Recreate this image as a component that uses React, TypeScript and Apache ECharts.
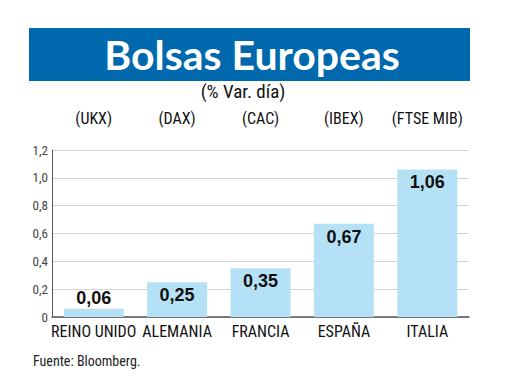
import React, { useEffect, useRef } from "react";
import * as echarts from "echarts";

const categories = ["REINO UNIDO", "ALEMANIA", "FRANCIA", "ESPAÑA", "ITALIA"];
const indexLabels = ["(UKX)", "(DAX)", "(CAC)", "(IBEX)", "(FTSE MIB)"];
const values = [0.06, 0.25, 0.35, 0.67, 1.06];
const titleText = "Bolsas Europeas";
const subtitleText = "(% Var. día)";
const sourceText = "Fuente: Bloomberg.";

const COND = "'Liberation Sans Narrow', 'Roboto Condensed', 'DejaVu Sans Condensed', Roboto, sans-serif";

export default function App() {
  const ref = useRef<HTMLDivElement>(null);
  useEffect(() => {
    document.body.style.margin = "0";
    const chart = echarts.init(ref.current!, null, { renderer: "svg" });
    const fmt = (v: number) => v.toFixed(2).replace(".", ",");
    chart.setOption({
      animation: false,
      backgroundColor: "#ffffff",
      grid: { left: 52, right: 51, top: 150, bottom: 73 },
      xAxis: [
        {
          type: "category",
          data: categories,
          position: "bottom",
          axisLine: { show: true, lineStyle: { color: "#555", width: 1.5 } },
          axisTick: { show: false },
          axisLabel: { interval: 0, color: "#111", fontSize: 16, fontFamily: COND, margin: 6 },
        },
        {
          type: "category",
          data: indexLabels,
          position: "top",
          axisLine: { show: false },
          axisTick: { show: false },
          axisLabel: { interval: 0, color: "#111", fontSize: 16, fontFamily: COND, margin: 24 },
        },
      ],
      yAxis: {
        type: "value",
        min: 0,
        max: 1.2,
        interval: 0.2,
        axisLine: { show: true, lineStyle: { color: "#555", width: 1 } },
        axisTick: { show: false },
        splitLine: { lineStyle: { color: "#d4d4d4", width: 1 } },
        axisLabel: {
          color: "#444",
          fontSize: 13,
          fontFamily: COND,
          margin: 4,
          formatter: (v: number) => (v === 0 ? "0" : v.toFixed(1).replace(".", ",")),
        },
      },
      series: [
        {
          type: "bar",
          barWidth: 60,
          itemStyle: { color: "#b5e1f7" },
          data: values.map((v) => ({
            value: v,
            label: {
              show: true,
              position: v < 0.2 ? "top" : "insideTop",
              distance: v < 0.2 ? 2 : 4,
              formatter: () => fmt(v),
              color: "#111",
              fontSize: 18,
              fontWeight: "bold",
              fontFamily: "'Liberation Sans', Arial, sans-serif",
            },
          })),
        },
      ],
      graphic: [
        { type: "rect", shape: { x: 29, y: 28, width: 441, height: 53 }, style: { fill: "#0068ad" } },
        {
          type: "text",
          x: 252,
          y: 54,
          style: {
            text: titleText,
            fill: "#ffffff",
            font: "bold 41px Lato, 'Open Sans', sans-serif",
            textAlign: "center",
            textVerticalAlign: "middle",
          },
        },
        {
          type: "text",
          x: 243,
          y: 91,
          style: {
            text: subtitleText,
            fill: "#111",
            font: "19px " + COND,
            textAlign: "center",
            textVerticalAlign: "middle",
          },
        },
        {
          type: "text",
          x: 33,
          y: 361,
          style: {
            text: sourceText,
            fill: "#222",
            font: "14px " + COND,
            textAlign: "left",
            textVerticalAlign: "middle",
          },
        },
      ],
    });
    return () => chart.dispose();
  }, []);
  return <div ref={ref} style={{ width: 520, height: 390, position: "fixed", left: 0, top: 0 }} />;
}
